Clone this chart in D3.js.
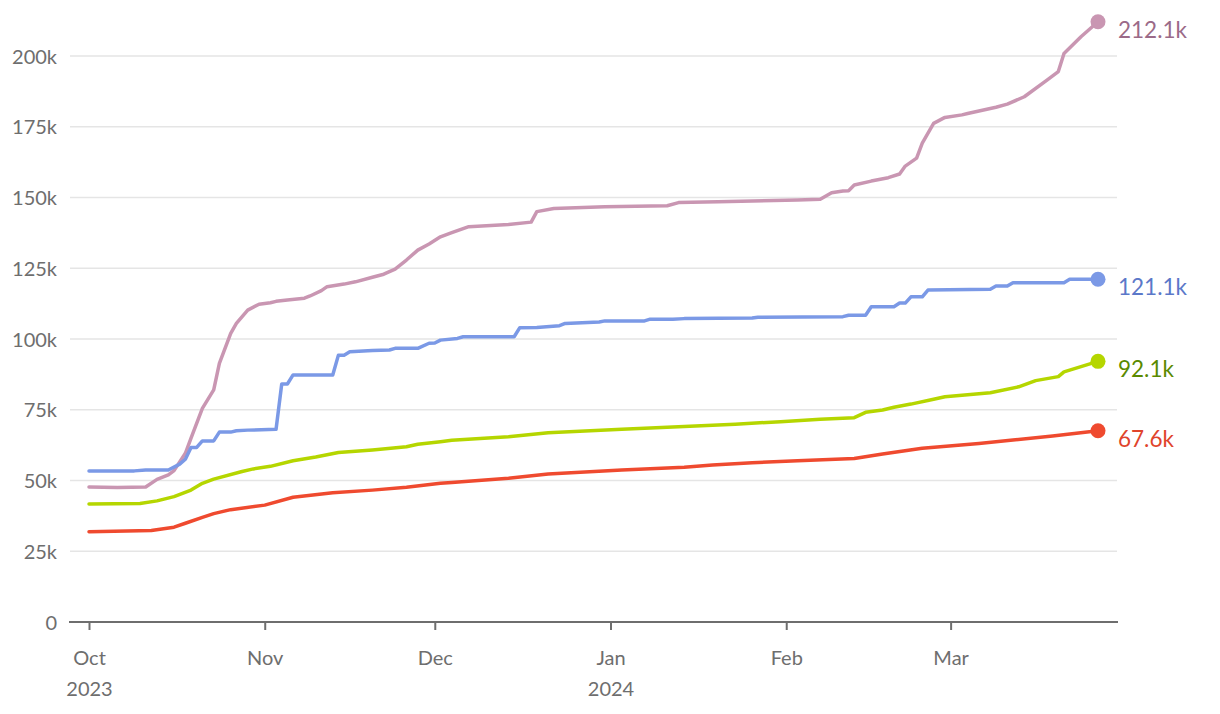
<!DOCTYPE html>
<html>
<head>
<meta charset="utf-8">
<script src="https://cdn.jsdelivr.net/npm/d3@7"></script>
<style>
  html, body { margin: 0; padding: 0; background: #fff; }
  svg { display: block; font-family: Lato, "Noto Sans", sans-serif; }
</style>
</head>
<body>
<svg id="chart" width="1220" height="714"></svg>
<script>
// ---- data (values in thousands) ----
const pinkSeries = [
  ["2023-10-01",47.7],["2023-10-06",47.5],["2023-10-11",47.7],["2023-10-13",50.4],["2023-10-15",52.0],
  ["2023-10-16",53.5],["2023-10-18",59.6],["2023-10-19",65.0],["2023-10-21",75.5],["2023-10-23",82.0],
  ["2023-10-24",91.4],["2023-10-26",102.0],["2023-10-27",105.5],["2023-10-29",110.2],["2023-10-31",112.3],
  ["2023-11-02",112.8],["2023-11-03",113.3],["2023-11-05",113.8],["2023-11-08",114.4],["2023-11-09",115.2],
  ["2023-11-11",117.1],["2023-11-12",118.5],["2023-11-15",119.4],["2023-11-17",120.2],["2023-11-20",121.8],
  ["2023-11-22",122.9],["2023-11-24",124.7],["2023-11-26",127.9],["2023-11-28",131.4],["2023-11-30",133.6],
  ["2023-12-02",136.1],["2023-12-04",137.6],["2023-12-07",139.7],["2023-12-14",140.5],["2023-12-18",141.3],
  ["2023-12-19",145.0],["2023-12-22",146.1],["2023-12-31",146.7],["2024-01-11",147.1],["2024-01-13",148.2],
  ["2024-01-20",148.5],["2024-02-03",149.1],["2024-02-07",149.4],["2024-02-09",151.7],["2024-02-11",152.3],
  ["2024-02-12",152.4],["2024-02-13",154.4],["2024-02-16",155.8],["2024-02-19",157.0],["2024-02-21",158.3],
  ["2024-02-22",161.1],["2024-02-24",163.9],["2024-02-25",169.2],["2024-02-27",176.2],["2024-02-29",178.3],
  ["2024-03-03",179.2],["2024-03-04",179.7],["2024-03-09",181.9],["2024-03-11",183.0],["2024-03-14",185.6],
  ["2024-03-18",191.5],["2024-03-20",194.5],["2024-03-21",200.9],["2024-03-24",206.8],["2024-03-27",212.1]
];
const blueSeries = [
  ["2023-10-01",53.4],["2023-10-09",53.4],["2023-10-11",53.7],["2023-10-15",53.7],["2023-10-17",55.8],
  ["2023-10-18",57.5],["2023-10-19",61.7],["2023-10-20",61.7],["2023-10-21",64.0],["2023-10-23",64.0],
  ["2023-10-24",67.1],["2023-10-26",67.1],["2023-10-27",67.6],["2023-10-29",67.8],["2023-11-03",68.1],
  ["2023-11-04",84.1],["2023-11-05",84.1],["2023-11-06",87.3],["2023-11-13",87.3],["2023-11-14",94.3],
  ["2023-11-15",94.3],["2023-11-16",95.5],["2023-11-20",95.9],["2023-11-23",96.1],["2023-11-24",96.7],
  ["2023-11-28",96.7],["2023-11-30",98.5],["2023-12-01",98.6],["2023-12-02",99.6],["2023-12-05",100.2],
  ["2023-12-06",100.8],["2023-12-15",100.8],["2023-12-16",104.0],["2023-12-19",104.1],["2023-12-23",104.7],
  ["2023-12-24",105.5],["2023-12-30",106.0],["2023-12-31",106.4],["2024-01-07",106.4],["2024-01-08",107.0],
  ["2024-01-12",107.0],["2024-01-14",107.2],["2024-01-26",107.4],["2024-01-27",107.7],["2024-02-11",107.9],
  ["2024-02-12",108.4],["2024-02-15",108.4],["2024-02-16",111.4],["2024-02-20",111.4],["2024-02-21",112.7],
  ["2024-02-22",112.7],["2024-02-23",114.9],["2024-02-25",114.9],["2024-02-26",117.3],["2024-03-08",117.6],
  ["2024-03-09",118.7],["2024-03-11",118.7],["2024-03-12",119.9],["2024-03-21",119.9],["2024-03-22",121.1],
  ["2024-03-27",121.1]
];
const greenSeries = [
  ["2023-10-01",41.7],["2023-10-10",41.9],["2023-10-13",42.8],["2023-10-16",44.3],["2023-10-19",46.6],
  ["2023-10-21",49.0],["2023-10-23",50.5],["2023-10-28",53.2],["2023-10-30",54.1],["2023-11-02",55.0],
  ["2023-11-06",57.0],["2023-11-10",58.3],["2023-11-14",59.9],["2023-11-20",60.8],["2023-11-26",61.9],
  ["2023-11-28",62.8],["2023-12-02",63.7],["2023-12-04",64.2],["2023-12-14",65.5],["2023-12-21",66.9],
  ["2024-01-03",68.1],["2024-01-11",68.8],["2024-01-23",69.9],["2024-01-31",70.8],["2024-02-07",71.6],
  ["2024-02-13",72.2],["2024-02-15",74.1],["2024-02-18",74.9],["2024-02-20",75.9],["2024-02-23",77.0],
  ["2024-02-27",78.7],["2024-02-29",79.6],["2024-03-08",81.0],["2024-03-13",83.1],["2024-03-16",85.3],
  ["2024-03-20",86.7],["2024-03-21",88.4],["2024-03-27",92.1]
];
const redSeries = [
  ["2023-10-01",31.9],["2023-10-12",32.3],["2023-10-16",33.5],["2023-10-18",34.9],["2023-10-21",37.0],
  ["2023-10-23",38.3],["2023-10-26",39.7],["2023-11-01",41.3],["2023-11-06",44.1],["2023-11-13",45.7],
  ["2023-11-20",46.6],["2023-11-26",47.6],["2023-12-02",49.0],["2023-12-04",49.3],["2023-12-14",50.8],
  ["2023-12-21",52.3],["2024-01-03",53.7],["2024-01-14",54.7],["2024-01-19",55.5],["2024-01-26",56.3],
  ["2024-02-03",57.0],["2024-02-13",57.8],["2024-02-18",59.4],["2024-02-25",61.4],["2024-03-06",63.1],
  ["2024-03-12",64.3],["2024-03-19",65.7],["2024-03-27",67.6]
];
const endLabels = ["212.1k", "121.1k", "92.1k", "67.6k"];
const yTicks = [0, 25, 50, 75, 100, 125, 150, 175, 200];
const yTickLabels = ["0", "25k", "50k", "75k", "100k", "125k", "150k", "175k", "200k"];
const xTicks = ["2023-10-01","2023-11-01","2023-12-01","2024-01-01","2024-02-01","2024-03-01"];
const xTickLabels = ["Oct","Nov","Dec","Jan","Feb","Mar"];
const xTickYears = ["2023","","","2024","",""];

const parse = d3.timeParse("%Y-%m-%d");
const seriesDefs = [
  { data: pinkSeries,  line: "#c996b2", label: "#9b6a88", text: endLabels[0] },
  { data: blueSeries,  line: "#7b99e6", label: "#5b78c9", text: endLabels[1] },
  { data: greenSeries, line: "#b5d600", label: "#5a8a00", text: endLabels[2] },
  { data: redSeries,   line: "#ef4a2f", label: "#e0442b", text: endLabels[3] }
];

const svg = d3.select("#chart");
const plotLeft = 70, plotRight = 1117;
const axisColor = "#6e6e6e";
const fontSize = 20;

const x = d3.scaleTime()
  .domain([parse("2023-10-01"), parse("2024-03-27")])
  .range([89, 1098]);
const y = d3.scaleLinear().domain([0, 200]).range([622, 56]);

// gridlines
svg.append("g")
  .selectAll("line")
  .data(yTicks.filter(t => t > 0))
  .join("line")
  .attr("x1", plotLeft).attr("x2", plotRight)
  .attr("y1", d => y(d)).attr("y2", d => y(d))
  .attr("stroke", "#e5e5e5").attr("stroke-width", 1.5);

// y axis labels
const yAxis = d3.axisLeft(y).tickValues(yTicks)
  .tickFormat((d, i) => yTickLabels[i]).tickSize(0).tickPadding(0);
const gy = svg.append("g").attr("transform", "translate(57,0)").call(yAxis);
gy.select(".domain").remove();
gy.selectAll("text").attr("font-size", fontSize).attr("fill", axisColor)
  .attr("font-family", "Lato, sans-serif").attr("dy", "0.35em");

// x axis
const xAxis = d3.axisBottom(x).tickValues(xTicks.map(parse))
  .tickFormat((d, i) => xTickLabels[i]).tickSize(8).tickSizeOuter(0).tickPadding(21);
const gx = svg.append("g").attr("transform", "translate(0,622)").call(xAxis);
gx.select(".domain").remove();
gx.selectAll(".tick line").attr("stroke", axisColor).attr("stroke-width", 2);
gx.selectAll(".tick text").attr("font-size", fontSize).attr("fill", axisColor)
  .attr("font-family", "Lato, sans-serif");
gx.selectAll(".tick").append("text")
  .attr("y", 74).attr("text-anchor", "middle")
  .attr("font-size", fontSize).attr("fill", axisColor).attr("font-family", "Lato, sans-serif")
  .text((d, i) => xTickYears[i]);
svg.append("line")
  .attr("x1", plotLeft - 1).attr("x2", plotRight + 1)
  .attr("y1", 622).attr("y2", 622)
  .attr("stroke", axisColor).attr("stroke-width", 2);

// lines
const lineGen = d3.line()
  .x(d => x(parse(d[0])))
  .y(d => y(d[1]))
  .curve(d3.curveLinear);

seriesDefs.forEach(s => {
  svg.append("path")
    .datum(s.data)
    .attr("d", lineGen)
    .attr("fill", "none")
    .attr("stroke", s.line)
    .attr("stroke-width", 3.5)
    .attr("stroke-linejoin", "round")
    .attr("stroke-linecap", "round");
  const last = s.data[s.data.length - 1];
  const cx = x(parse(last[0])), cy = y(last[1]);
  svg.append("circle").attr("cx", cx).attr("cy", cy).attr("r", 7.5).attr("fill", s.line);
  svg.append("text")
    .attr("x", cx + 20).attr("y", cy + 8)
    .attr("dy", "0.35em")
    .attr("font-size", 22.5).attr("font-family", "Lato, sans-serif")
    .attr("fill", s.label)
    .text(s.text);
});
</script>
</body>
</html>
